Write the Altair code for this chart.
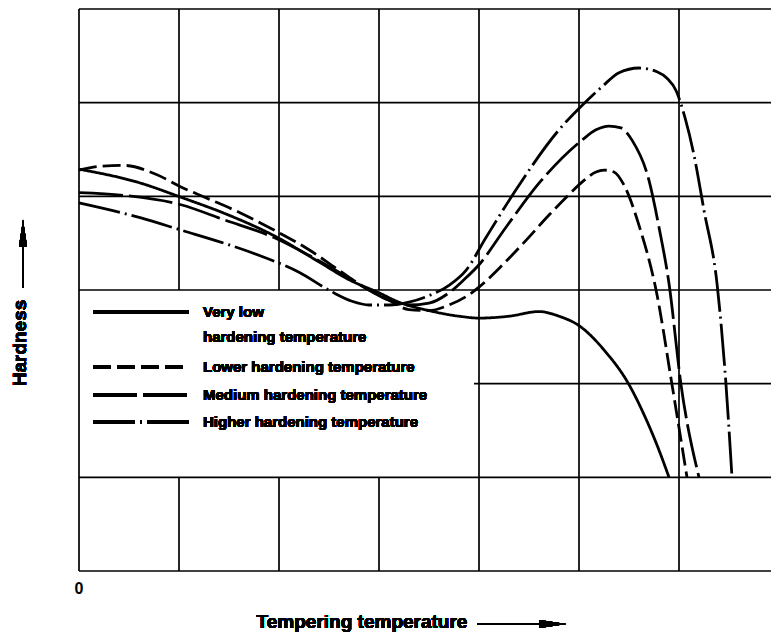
import altair as alt
import pandas as pd

# ---- data (grid units: x = tempering temperature, y = hardness) ----
series_names = [
    "Very low hardening temperature",
    "Lower hardening temperature",
    "Medium hardening temperature",
    "Higher hardening temperature",
]

very_low_x = [0.00, 0.62, 1.02, 1.45, 1.95, 2.40, 2.70, 3.00, 3.20, 3.50, 3.80, 4.00, 4.30, 4.60, 4.80, 5.00, 5.25, 5.50, 5.65, 5.80, 5.90]
very_low_y = [4.29, 4.14, 3.99, 3.82, 3.58, 3.30, 3.11, 2.97, 2.87, 2.78, 2.72, 2.70, 2.72, 2.77, 2.72, 2.62, 2.36, 1.99, 1.67, 1.29, 1.00]

lower_x = [0.00, 0.20, 0.45, 0.78, 1.02, 1.28, 1.62, 1.95, 2.30, 2.60, 2.90, 3.10, 3.30, 3.50, 3.70, 3.90, 4.00, 4.20, 4.47, 4.70, 4.90, 5.05, 5.17, 5.25, 5.35, 5.45, 5.60, 5.78, 5.93, 6.08]
lower_y = [4.28, 4.32, 4.33, 4.23, 4.10, 3.98, 3.82, 3.64, 3.43, 3.21, 3.00, 2.89, 2.79, 2.78, 2.84, 2.95, 3.03, 3.23, 3.53, 3.80, 4.02, 4.17, 4.26, 4.28, 4.26, 4.12, 3.69, 2.95, 1.99, 1.00]

medium_x = [0.00, 0.45, 1.02, 1.45, 1.95, 2.30, 2.60, 2.90, 3.10, 3.30, 3.50, 3.70, 3.85, 4.00, 4.27, 4.60, 5.03, 5.17, 5.30, 5.42, 5.53, 5.70, 5.80, 5.90, 6.02, 6.20]
medium_y = [4.04, 4.01, 3.91, 3.75, 3.56, 3.37, 3.19, 3.00, 2.89, 2.84, 2.86, 2.97, 3.11, 3.27, 3.67, 4.14, 4.60, 4.71, 4.75, 4.73, 4.60, 4.17, 3.67, 3.07, 1.99, 1.00]

higher_x = [0.00, 0.62, 1.02, 1.45, 1.85, 2.20, 2.53, 2.73, 2.90, 3.10, 3.30, 3.50, 3.70, 3.87, 4.07, 4.37, 4.80, 5.03, 5.23, 5.40, 5.60, 5.78, 5.88, 5.97, 6.06, 6.15, 6.25, 6.38, 6.47, 6.53]
higher_y = [3.93, 3.77, 3.64, 3.50, 3.35, 3.19, 2.98, 2.88, 2.84, 2.84, 2.87, 2.94, 3.05, 3.21, 3.56, 4.07, 4.71, 4.97, 5.17, 5.32, 5.37, 5.33, 5.26, 5.13, 4.84, 4.44, 3.85, 3.07, 1.99, 1.00]

grid_x_values = [0, 1, 2, 3, 4, 5, 6]
grid_y_values = [0, 1, 2, 3, 4, 5, 6]
x_tick_labels = ["0"]

# ---- layout / style constants ----
X_MAX = 6.92
Y_MAX = 6
LEGEND_BOX_X_END = 3.95   # grid is blank inside the legend area
LEGEND_BOX_Y = (1, 3)
FONT = "Liberation Sans"
dash_patterns = [[1, 0], [18, 6], [44, 6], [42, 5, 2, 5]]

rows = []
for name, xs_, ys_ in zip(series_names,
                          [very_low_x, lower_x, medium_x, higher_x],
                          [very_low_y, lower_y, medium_y, higher_y]):
    for i, (xv, yv) in enumerate(zip(xs_, ys_)):
        rows.append({"series": name, "i": i, "x": xv, "y": yv})
curves = pd.DataFrame(rows)

segs = []
for gx in grid_x_values:
    if 0 < gx < LEGEND_BOX_X_END:
        segs.append({"x": gx, "x2": gx, "y": 0, "y2": LEGEND_BOX_Y[0]})
        segs.append({"x": gx, "x2": gx, "y": LEGEND_BOX_Y[1], "y2": Y_MAX})
    else:
        segs.append({"x": gx, "x2": gx, "y": 0, "y2": Y_MAX})
for gy in grid_y_values:
    if LEGEND_BOX_Y[0] < gy < LEGEND_BOX_Y[1]:
        segs.append({"x": LEGEND_BOX_X_END, "x2": X_MAX, "y": gy, "y2": gy})
    else:
        segs.append({"x": 0, "x2": X_MAX, "y": gy, "y2": gy})
grid = pd.DataFrame(segs)

xs = alt.Scale(domain=[0, X_MAX], nice=False, zero=False)
ys = alt.Scale(domain=[0, Y_MAX], nice=False, zero=False)

grid_layer = alt.Chart(grid).mark_rule(color="black", strokeWidth=1.7).encode(
    x=alt.X("x:Q", scale=xs, axis=alt.Axis(values=[0], labelExpr="'" + x_tick_labels[0] + "'",
                                          ticks=False, domain=False, grid=False, title="",
                                          labelFont=FONT, labelFontSize=16, labelFontWeight="bold",
                                          labelColor="black", labelPadding=9, labelAlign="right",
                                          labelOffset=4)),
    x2="x2:Q",
    y=alt.Y("y:Q", scale=ys, axis=None),
    y2="y2:Q",
)

curve_layer = alt.Chart(curves).mark_line(color="black", strokeWidth=2.8, interpolate="monotone",
                                           strokeCap="butt").encode(
    x=alt.X("x:Q", scale=xs),
    y=alt.Y("y:Q", scale=ys),
    detail="series:N",
    order=alt.Order("i:Q"),
    strokeDash=alt.StrokeDash("series:N", scale=alt.Scale(domain=series_names, range=dash_patterns),
                              legend=None),
)

# ---- manual legend ----
legend_layers = []
legend_rows_y = [303, 358, 386, 413]
for dash, ly in zip(dash_patterns, legend_rows_y):
    legend_layers.append(
        alt.Chart(grid).mark_rule(color="black", strokeWidth=2.8, strokeDash=dash, strokeCap="butt").encode(
            x=alt.value(14), x2=alt.value(110), y=alt.value(ly)
        )
    )
legend_texts = [
    ("Very low", 303),
    ("hardening temperature", 328),
    (series_names[1], 358),
    (series_names[2], 386),
    (series_names[3], 413),
]
for txt, ly in legend_texts:
    legend_layers.append(
        alt.Chart(grid).mark_text(text=txt, align="left", baseline="middle", font=FONT,
                                  fontSize=15, fontWeight="bold", color="black").encode(
            x=alt.value(124), y=alt.value(ly)
        )
    )

# ---- axis titles with arrows ----
x_title = alt.Chart(grid).mark_text(text="Tempering temperature", align="center", baseline="middle",
                                    font=FONT, fontSize=19, fontWeight="bold", color="black").encode(
    x=alt.value(283), y=alt.value(613))
x_arrow = alt.Chart(grid).mark_rule(color="black", strokeWidth=1.6).encode(
    x=alt.value(398), x2=alt.value(474), y=alt.value(615))
x_head = alt.Chart(grid).mark_point(shape="M-1,-0.3L1,0L-1,0.3Z", filled=True, color="black",
                                    size=700, opacity=1).encode(
    x=alt.value(474), y=alt.value(615))

y_title = alt.Chart(grid).mark_text(text="Hardness", align="center", baseline="middle", angle=270,
                                    font=FONT, fontSize=19, fontWeight="bold", color="black").encode(
    x=alt.value(-59), y=alt.value(334))
y_arrow = alt.Chart(grid).mark_rule(color="black", strokeWidth=1.6).encode(
    x=alt.value(-56), y=alt.value(224), y2=alt.value(279))
y_head = alt.Chart(grid).mark_point(shape="M-0.3,1L0,-1L0.3,1Z", filled=True, color="black",
                                    size=700, opacity=1).encode(
    x=alt.value(-56), y=alt.value(224))

chart = alt.layer(
    grid_layer, curve_layer, *legend_layers, x_title, x_arrow, x_head, y_title, y_arrow, y_head
).properties(
    width=692, height=562,
    autosize=alt.AutoSizeParams(type="none"),
    padding={"left": 79, "top": 9, "right": 0, "bottom": 63},
    background="white",
).configure_view(stroke=None)

chart.save("out.html", embed_options={"renderer": "svg", "actions": False})
